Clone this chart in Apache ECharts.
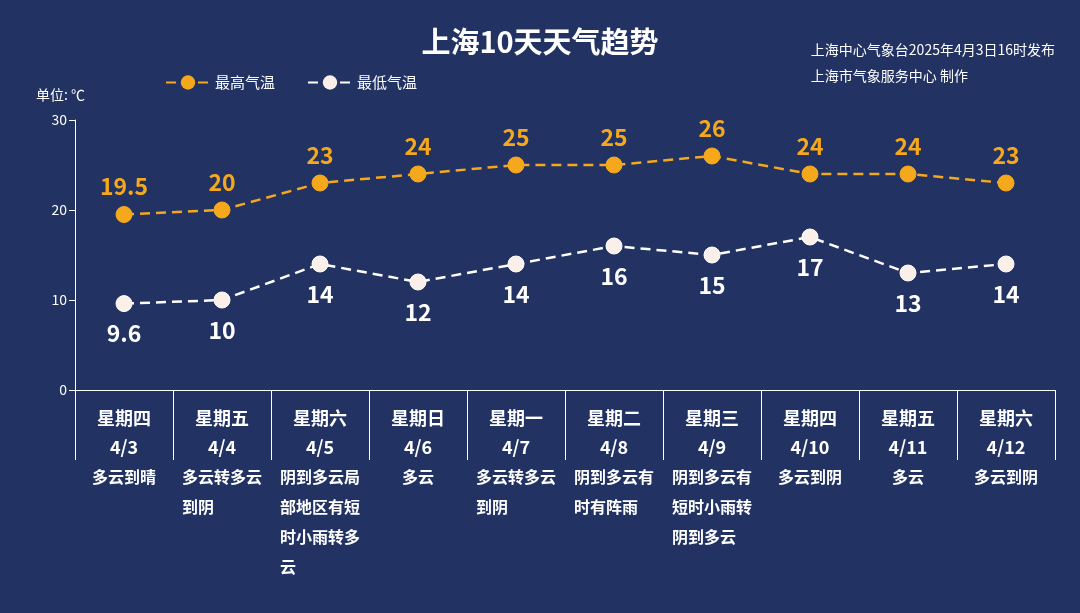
<!DOCTYPE html><html><head><meta charset="utf-8"><script src="https://cdn.jsdelivr.net/npm/echarts@6/dist/echarts.min.js"></script>
<style>html,body{margin:0;background:#213263}#c{width:1080px;height:613px}</style></head><body><div id="c"></div><script>
const weekdays=['星期四','星期五','星期六','星期日','星期一','星期二','星期三','星期四','星期五','星期六'];
const dates=['4/3','4/4','4/5','4/6','4/7','4/8','4/9','4/10','4/11','4/12'];
const weather=['多云到晴','多云转多云到阴','阴到多云局部地区有短时小雨转多云','多云','多云转多云到阴','阴到多云有时有阵雨','阴到多云有短时小雨转阴到多云','多云到阴','多云','多云到阴'];
const highs=[19.5,20,23,24,25,25,26,24,24,23];
const lows=[9.6,10,14,12,14,16,15,17,13,14];
const yTicks=[0,10,20,30];
function wrap(s){const p=[];for(let i=0;i<s.length;i+=5)p.push(s.slice(i,i+5));if(p.length>1){const l=p.length-1;while(p[l].length<5)p[l]+='\u3000';}return p.join('\n');}
const cats=weekdays.map((w,i)=>w+'|'+dates[i]+'|'+weather[i]);
const ch=echarts.init(document.getElementById('c'));
const F='"Noto Sans CJK SC","Microsoft YaHei",sans-serif';
ch.setOption({backgroundColor:'#213263',textStyle:{fontFamily:F},
title:[{text:'上海10天天气趋势',left:'center',top:22,textStyle:{color:'#fff',fontSize:29,fontWeight:'bold',fontFamily:F}},
{text:'上海中心气象台2025年4月3日16时发布\n上海市气象服务中心 制作',right:20,top:32,textStyle:{color:'#fff',fontSize:14,fontWeight:'normal',lineHeight:26,align:'right',fontFamily:F}}],
legend:{left:160,top:70,itemWidth:44,itemHeight:18,itemGap:32,textStyle:{color:'#fff',fontSize:15},data:['最高气温','最低气温']},
grid:{left:75,right:25,top:120,bottom:223},
xAxis:{type:'category',data:cats,boundaryGap:true,axisLine:{show:true,lineStyle:{color:'#fff'}},axisTick:{show:true,length:70,interval:0,lineStyle:{color:'#fff',width:1}},
axisLabel:{interval:0,margin:14,formatter:v=>{const a=v.split('|');return '{d|'+a[0]+'}\n{d|'+a[1]+'}\n{w|'+wrap(a[2])+'}';},
rich:{d:{color:'#fff',fontSize:18,fontWeight:'bold',lineHeight:29,fontFamily:F},w:{color:'#fff',fontSize:16,fontWeight:'bold',lineHeight:30,fontFamily:F}}}},
yAxis:{type:'value',min:yTicks[0],max:yTicks[yTicks.length-1],interval:10,name:'单位: ℃',nameLocation:'end',nameGap:18,nameTextStyle:{color:'#fff',fontSize:14,align:'right',padding:[0,-10,0,0]},
axisLine:{show:true,lineStyle:{color:'#fff'}},axisTick:{show:true,length:6,lineStyle:{color:'#fff'}},splitLine:{show:false},axisLabel:{color:'#fff',fontSize:14}},
series:[{name:'最高气温',type:'line',data:highs,symbol:'circle',symbolSize:16,itemStyle:{color:'#f5a81c',borderColor:'#f5a81c'},lineStyle:{color:'#f5a81c',width:2.5,type:[10,6]},
label:{show:true,position:'top',distance:8,color:'#f5a81c',fontSize:23,fontWeight:'bold'}},
{name:'最低气温',type:'line',data:lows,symbol:'circle',symbolSize:16,itemStyle:{color:'#fbefe9',borderColor:'#fff'},lineStyle:{color:'#fff',width:2.5,type:[10,6]},
label:{show:true,position:'bottom',distance:10,color:'#fff',fontSize:23,fontWeight:'bold'}}]});
</script></body></html>
